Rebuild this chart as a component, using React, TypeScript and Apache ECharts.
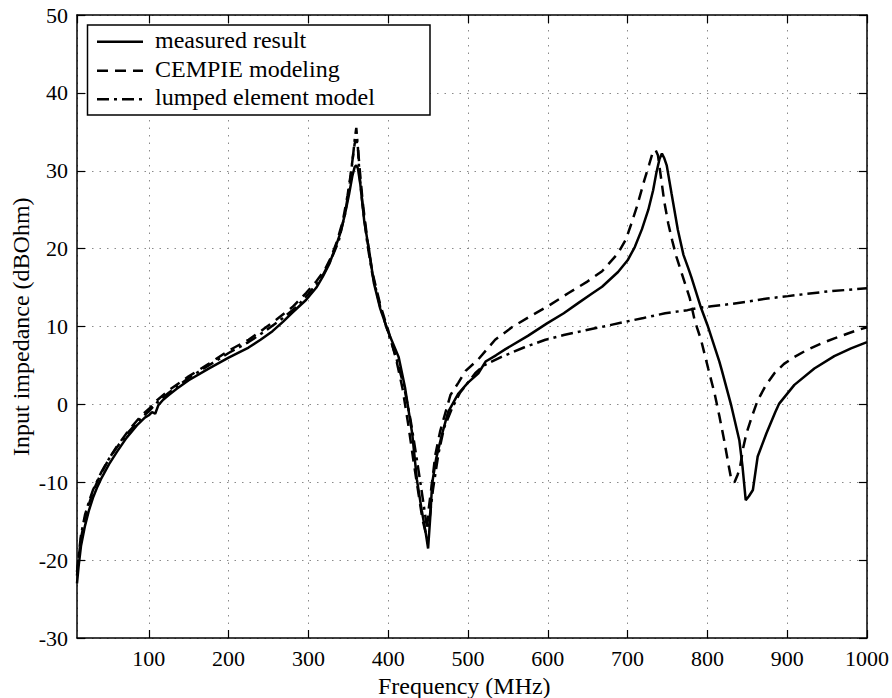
import React, { useEffect, useRef } from 'react';
import * as echarts from 'echarts';

const FONT = 'Liberation Serif, serif';

const xTickStep = 100;
const yTicks = { min: -30, max: 50, step: 10 };
const xTitle = 'Frequency (MHz)';
const yTitle = 'Input impedance (dBOhm)';

const measuredFreq = [10, 12, 15, 20, 25, 30, 35, 40, 50, 60, 72, 85, 95, 100, 104, 108, 112, 118, 125, 135, 150, 175, 200, 225, 240, 255, 268, 280, 297, 310, 318, 326, 333, 340, 346, 351, 355, 358, 360, 362, 365, 370, 376, 382, 390, 400, 413, 421, 430, 436, 442, 447, 450, 453, 455, 460, 467, 475, 488, 500, 513, 522, 535, 547, 575, 599, 620, 638, 655, 668, 688, 700, 709, 718, 726, 732, 736, 740, 743, 746, 749, 755, 763, 770, 776, 780, 792, 800, 815, 818, 830, 840, 844, 848, 852, 857, 863, 874, 885, 890, 909, 934, 959, 980, 1000];
const measuredImp = [-23, -20.8, -18.2, -15.6, -13.6, -12.0, -10.7, -9.6, -7.7, -6.1, -4.3, -2.7, -1.7, -1.4, -1.0, -1.2, -0.1, 0.6, 1.2, 2.0, 3.1, 4.6, 6.0, 7.3, 8.3, 9.4, 10.6, 11.8, 13.4, 15.0, 16.4, 18.0, 19.9, 22.0, 24.5, 27.0, 29.3, 30.5, 30.7, 30.3, 28.3, 23.5, 19.8, 15.6, 12.3, 9.3, 6.1, 2.2, -3.7, -9.7, -13.6, -16.5, -18.5, -14.0, -10.2, -7.0, -4.0, -1.0, 1.4, 2.8, 4.0, 5.5, 6.3, 7.1, 8.8, 10.4, 11.7, 13.0, 14.2, 15.1, 17.0, 18.5, 20.2, 22.5, 25.0, 27.5, 29.7, 31.5, 32.2, 31.6, 30.7, 27.1, 22.4, 19.2, 17.5, 16.3, 12.4, 10.2, 5.5, 4.4, -0.2, -4.6, -8.0, -12.3, -11.8, -11.0, -6.7, -3.7, -1.0, 0.1, 2.5, 4.6, 6.2, 7.2, 8.0];

const cempieFreq = [10, 12, 15, 20, 25, 30, 40, 50, 60, 75, 90, 100, 110, 125, 150, 175, 200, 225, 243, 260, 280, 297, 310, 320, 328, 336, 343, 349, 353, 356, 358, 360, 362, 364, 368, 374, 380, 390, 400, 410, 418, 425, 432, 438, 443, 447, 449, 451, 455, 459, 465, 471, 478, 488, 497, 513, 534, 555, 576, 600, 626, 650, 668, 688, 698, 704, 712, 721, 727, 731, 735, 738, 742, 746, 751, 756, 761, 772, 778, 784, 792, 801, 809, 815, 821, 826, 830, 834, 838, 841, 845, 849, 856, 863, 873, 884, 896, 909, 925, 942, 960, 976, 990, 1000];
const cempieImp = [-22, -19.8, -17.2, -14.6, -12.8, -11.2, -8.9, -7.0, -5.4, -3.3, -1.5, -0.6, 0.5, 1.8, 3.6, 5.2, 6.9, 8.3, 9.6, 10.9, 12.5, 14.3, 15.8, 17.2, 18.8, 21.0, 23.5, 26.8, 29.5, 32.0, 33.5, 34.0, 33.0, 30.5, 26.0, 21.0, 17.0, 12.8, 9.5, 5.8, 2.0, -2.5, -7.5, -11.5, -14.8, -16.5, -15.5, -13.2, -10.0, -6.5, -3.5, -1.3, 1.2, 2.8, 4.3, 5.8, 8.3, 9.9, 11.2, 12.6, 14.3, 15.8, 17.1, 19.4, 21.2, 23.0, 25.5, 28.8, 30.8, 32.2, 32.7, 32.0, 29.0, 26.0, 23.2, 21.0, 19.0, 15.5, 13.6, 10.8, 8.3, 4.6, 1.4, -1.5, -4.6, -7.5, -9.7, -10.0, -9.0, -8.0, -5.5, -3.7, -1.5, 0.5, 2.4, 4.0, 5.2, 6.1, 7.0, 7.8, 8.5, 9.1, 9.6, 9.9];

const lumpedFreq = [10, 12, 15, 20, 25, 30, 40, 50, 60, 75, 90, 100, 110, 125, 150, 175, 200, 225, 247, 268, 285, 300, 315, 328, 338, 346, 352, 356, 358, 360, 362, 364, 368, 374, 380, 390, 400, 410, 420, 428, 435, 441, 446, 449, 452, 456, 463, 470, 480, 490, 500, 509, 520, 542, 570, 597, 620, 647, 670, 697, 720, 747, 775, 790, 805, 830, 851, 875, 901, 925, 951, 975, 1000];
const lumpedImp = [-21.5, -19.5, -16.8, -14.2, -12.5, -11.0, -8.8, -7.0, -5.5, -3.5, -1.8, -0.9, 0.2, 1.5, 3.4, 5.0, 6.6, 8.0, 9.5, 11.1, 12.5, 14.2, 16.0, 18.5, 21.0, 24.5, 28.5, 32.0, 34.0, 35.5, 33.0, 29.5, 25.5, 20.5, 16.8, 12.5, 9.2, 6.0, 2.2, -2.0, -6.5, -10.5, -14.0, -16.0, -14.5, -11.0, -6.3, -3.0, -0.5, 1.5, 2.8, 4.0, 5.0, 6.1, 7.3, 8.3, 8.9, 9.5, 10.0, 10.6, 11.1, 11.7, 12.1, 12.4, 12.6, 12.9, 13.2, 13.6, 13.9, 14.2, 14.5, 14.7, 14.9];

const seriesNames = ['measured result', 'CEMPIE modeling', 'lumped element model'];
const dashCempie = [11, 7];
const dashLumped = [12, 5, 3, 5];

function zip(xs: number[], ys: number[]) {
  return xs.map((x, i) => [x, ys[i]]);
}

export default function App() {
  const ref = useRef<HTMLDivElement>(null);
  useEffect(() => {
    const chart = echarts.init(ref.current!, null, { renderer: 'svg' });
    const axisLine = { show: true, onZero: false, lineStyle: { color: '#000', width: 1.5 } };
    const axisTick = { show: true, inside: true, length: 8, lineStyle: { color: '#000', width: 1.2 } };
    const splitLine = { show: true, lineStyle: { color: '#8a8a8a', width: 1, type: [1.5, 6] } };
    const labelStyle = { fontFamily: FONT, fontSize: 22, color: '#000' };
    const xBase = { type: 'value', min: 10, max: 1000, splitNumber: 10, minInterval: xTickStep, maxInterval: xTickStep };
    const yBase = { type: 'value', min: yTicks.min, max: yTicks.max, interval: yTicks.step };
    const lineSeries = (i: number, xs: number[], ys: number[], type: any) => ({
      name: seriesNames[i],
      type: 'line',
      data: zip(xs, ys),
      showSymbol: false,
      symbol: 'none',
      xAxisIndex: 0,
      yAxisIndex: 0,
      lineStyle: { color: '#000', width: 2.5, type },
      z: 10 - i,
    });
    const rowY = [41.7, 70.7, 99.3];
    const textY = [40, 68.5, 97];
    const graphics: any[] = [
      { type: 'rect', shape: { x: 87.5, y: 25, width: 342.5, height: 90 }, style: { fill: '#fff', stroke: '#000', lineWidth: 1.5 }, z: 100 },
      {
        type: 'text', x: 378, y: 686, z: 101,
        style: { text: xTitle, font: '24px Liberation Serif', fill: '#000', align: 'left', verticalAlign: 'middle' },
      },
      {
        type: 'text', x: 21, y: 456, rotation: Math.PI / 2, z: 101,
        style: { text: yTitle, fontFamily: 'Liberation Serif', fontSize: 24, fill: '#000', align: 'left', verticalAlign: 'middle' },
      },
    ];
    const dashes = [null, dashCempie, dashLumped];
    seriesNames.forEach((n, i) => {
      const st: any = { stroke: '#000', lineWidth: 2.5 };
      if (dashes[i]) st.lineDash = dashes[i];
      graphics.push({ type: 'line', shape: { x1: 97, y1: rowY[i], x2: 143, y2: rowY[i] }, style: st, z: 101 });
      graphics.push({
        type: 'text', x: 155, y: textY[i], z: 101,
        style: { text: n, fontFamily: FONT, fontSize: 24, fill: '#000', verticalAlign: 'middle', align: 'left' },
      });
    });
    chart.setOption({
      animation: false,
      backgroundColor: '#fff',
      textStyle: { fontFamily: FONT, color: '#000' },
      grid: { left: 77, right: 23, top: 15, bottom: 60, containLabel: false },
      xAxis: [
        {
          ...xBase, position: 'bottom',
          axisLine, axisTick,
          axisLabel: { ...labelStyle, margin: 9, showMinLabel: false, formatter: (v: number) => String(v) },
          splitLine,
        },
        { ...xBase, position: 'top', axisLine, axisTick, axisLabel: { show: false }, splitLine: { show: false } },
      ],
      yAxis: [
        {
          ...yBase, position: 'left',
          axisLine, axisTick,
          axisLabel: { ...labelStyle, margin: 9, formatter: (v: number) => String(v) },
          splitLine,
        },
        { ...yBase, position: 'right', axisLine, axisTick, axisLabel: { show: false }, splitLine: { show: false } },
      ],
      series: [
        lineSeries(0, measuredFreq, measuredImp, 'solid'),
        lineSeries(1, cempieFreq, cempieImp, dashCempie),
        lineSeries(2, lumpedFreq, lumpedImp, dashLumped),
      ],
      graphic: graphics,
    });
    return () => chart.dispose();
  }, []);
  return (
    <div
      ref={ref}
      style={{ position: 'absolute', left: 0, top: 0, width: 892, height: 698, background: '#fff' }}
    />
  );
}
